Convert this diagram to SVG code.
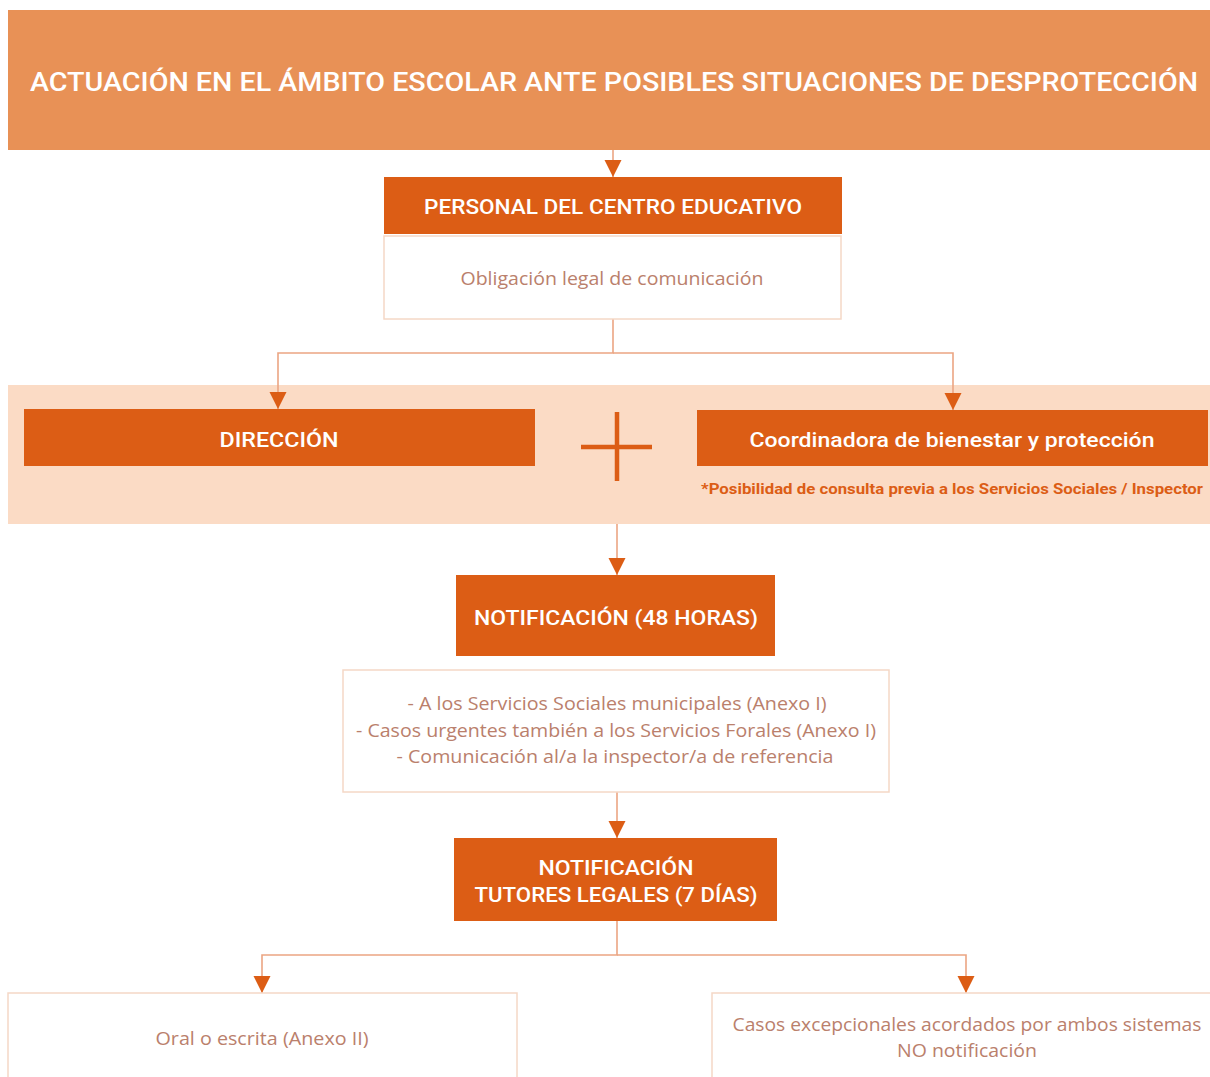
<svg xmlns="http://www.w3.org/2000/svg" width="1210" height="1077" viewBox="0 0 1210 1077">
<style>
.dark{fill:#DC5D15;}
.light{fill:#FFFFFF;stroke:#F5D8C6;stroke-width:1.5;}
.hd{font-family:Roboto,"Liberation Sans",sans-serif;font-weight:500;fill:#FFFFFF;text-anchor:middle;}
.bd{font-family:"Open Sans","Noto Sans","Liberation Sans",sans-serif;fill:#BA806C;text-anchor:middle;font-size:18px;}
.conn{fill:none;stroke:#EBA583;stroke-width:1.6;}
</style>
<defs>
<marker id="ah" markerUnits="userSpaceOnUse" markerWidth="18" markerHeight="18" viewBox="0 0 18 18" refX="9" refY="17" orient="0">
<path d="M0.5,0 L17.5,0 L9,17 Z" fill="#DC5D15"/>
</marker>
</defs>
<rect x="0" y="0" width="1210" height="1077" fill="#FFFFFF"/>

<g id="title">
<rect x="8" y="10" width="1202" height="140" fill="#E89156"/>
<text class="hd" x="614" y="91" font-size="26" font-weight="700" textLength="1168" lengthAdjust="spacingAndGlyphs">ACTUACIÓN EN EL ÁMBITO ESCOLAR ANTE POSIBLES SITUACIONES DE DESPROTECCIÓN</text>
</g>

<g id="band">
<rect x="8" y="385" width="1202" height="139" fill="#FBDBC5"/>
</g>

<g id="connectors">
<path class="conn" d="M613,150 V177" marker-end="url(#ah)"/>
<path class="conn" d="M613,319 V353 H278 V409" marker-end="url(#ah)"/>
<path class="conn" d="M613,353 H953 V410" marker-end="url(#ah)"/>
<path class="conn" d="M617,524 V575" marker-end="url(#ah)"/>
<path class="conn" d="M617,792 V838" marker-end="url(#ah)"/>
<path class="conn" d="M617,921 V955 H262 V993" marker-end="url(#ah)"/>
<path class="conn" d="M617,955 H966 V993" marker-end="url(#ah)"/>
</g>

<g id="personal">
<rect class="dark" x="384" y="177" width="458" height="57"/>
<text class="hd" x="613" y="214" font-size="21" textLength="378" lengthAdjust="spacingAndGlyphs">PERSONAL DEL CENTRO EDUCATIVO</text>
</g>

<g id="obligacion">
<rect class="light" x="384" y="236" width="457" height="83"/>
<text class="bd" x="612" y="285" textLength="303" lengthAdjust="spacingAndGlyphs">Obligación legal de comunicación</text>
</g>

<g id="direccion">
<rect class="dark" x="24" y="409" width="511" height="57"/>
<text class="hd" x="279" y="447" font-size="20" textLength="119" lengthAdjust="spacingAndGlyphs">DIRECCIÓN</text>
</g>

<g id="plus">
<path d="M617,412 V481 M581,447 H652" stroke="#DC5D15" stroke-width="4.5" fill="none"/>
</g>

<g id="coordinadora">
<rect class="dark" x="697" y="410" width="511" height="56"/>
<text class="hd" x="952" y="447" font-size="20" textLength="405" lengthAdjust="spacingAndGlyphs">Coordinadora de bienestar y protección</text>
<text x="952" y="494" font-family="Roboto,'Liberation Sans',sans-serif" font-weight="700" font-size="15" fill="#DC5D15" text-anchor="middle" textLength="502" lengthAdjust="spacingAndGlyphs">*Posibilidad de consulta previa a los Servicios Sociales / Inspector</text>
</g>

<g id="notificacion48">
<rect class="dark" x="456" y="575" width="319" height="81"/>
<text class="hd" x="616" y="625" font-size="20" textLength="284" lengthAdjust="spacingAndGlyphs">NOTIFICACIÓN (48 HORAS)</text>
</g>

<g id="destinatarios">
<rect class="light" x="343" y="670" width="546" height="122"/>
<text class="bd" x="617" y="710" textLength="419" lengthAdjust="spacingAndGlyphs">- A los Servicios Sociales municipales (Anexo I)</text>
<text class="bd" x="616" y="737" textLength="520" lengthAdjust="spacingAndGlyphs">- Casos urgentes también a los Servicios Forales (Anexo I)</text>
<text class="bd" x="615" y="763" textLength="437" lengthAdjust="spacingAndGlyphs">- Comunicación al/a la inspector/a de referencia</text>
</g>

<g id="notificacionTutores">
<rect class="dark" x="454" y="838" width="323" height="83"/>
<text class="hd" x="616" y="875" font-size="20" textLength="155" lengthAdjust="spacingAndGlyphs">NOTIFICACIÓN</text>
<text class="hd" x="616" y="902" font-size="20" textLength="283" lengthAdjust="spacingAndGlyphs">TUTORES LEGALES (7 DÍAS)</text>
</g>

<g id="oral">
<rect class="light" x="8" y="993" width="509" height="100"/>
<text class="bd" x="262" y="1045" textLength="213" lengthAdjust="spacingAndGlyphs">Oral o escrita (Anexo II)</text>
</g>

<g id="excepcionales">
<rect class="light" x="712" y="993" width="510" height="100"/>
<text class="bd" x="967" y="1031" textLength="469" lengthAdjust="spacingAndGlyphs">Casos excepcionales acordados por ambos sistemas</text>
<text class="bd" x="967" y="1057" textLength="140" lengthAdjust="spacingAndGlyphs">NO notificación</text>
</g>
</svg>
